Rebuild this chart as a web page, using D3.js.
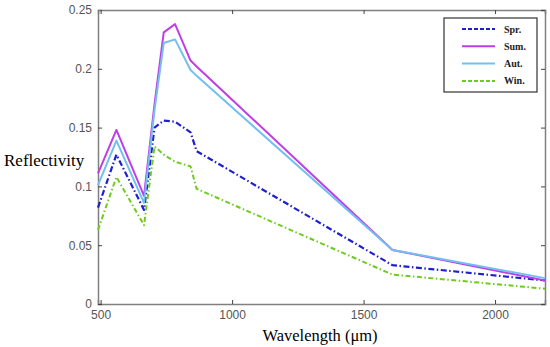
<!DOCTYPE html>
<html>
<head>
<meta charset="utf-8">
<script src="https://cdn.jsdelivr.net/npm/d3@7"></script>
<style>
  body { margin: 0; background: #fff; }
  .tick text { font-family: "Liberation Sans", Arial, sans-serif; font-size: 12px; fill: #555; }
</style>
</head>
<body>
<div id="chart"></div>
<script>
// Sentinel-2 band centres
const wavelengths = [490, 560, 665, 705, 740, 783, 842, 865, 1610, 2190];

const spring = [0.082, 0.127, 0.080, 0.150, 0.156, 0.155, 0.146, 0.130, 0.033, 0.020];
const summer = [0.111, 0.148, 0.092, 0.170, 0.231, 0.238, 0.207, 0.202, 0.046, 0.020];
const autumn = [0.101, 0.139, 0.086, 0.165, 0.222, 0.225, 0.199, 0.194, 0.046, 0.022];
const winter = [0.063, 0.108, 0.067, 0.134, 0.127, 0.121, 0.117, 0.098, 0.025, 0.013];

const seriesNames = ['Spr.', 'Sum.', 'Aut.', 'Win.'];
const xTicks = [500, 1000, 1500, 2000];
const yTicks = [0, 0.05, 0.1, 0.15, 0.2, 0.25];

const width = 550;
const height = 347;
const margin = { top: 10, right: 5, bottom: 43, left: 98 };

const series = [
  { name: seriesNames[0], values: spring, color: '#1f1fcf', dash: '6,2.5,1.5,2.5', width: 2.2 },
  { name: seriesNames[1], values: summer, color: '#c03ee6', dash: null, width: 2 },
  { name: seriesNames[2], values: autumn, color: '#72bff0', dash: null, width: 2 },
  { name: seriesNames[3], values: winter, color: '#6fcc1e', dash: '5,2.5,1.5,2.5', width: 2 }
];

const svg = d3.select('#chart')
  .append('svg')
  .attr('width', width)
  .attr('height', height);

const x = d3.scaleLinear()
  .domain([490, 2190])
  .range([margin.left, width - margin.right]);

const y = d3.scaleLinear()
  .domain([0, 0.25])
  .range([height - margin.bottom, margin.top]);

// axes (ticks inward, mirrored on top/right)
const axisColor = '#808080';

const axisBottomG = svg.append('g')
  .attr('transform', `translate(0,${height - margin.bottom})`)
  .call(d3.axisBottom(x).tickValues(xTicks).tickSize(-4).tickPadding(6).tickFormat(d3.format('d')));

const axisLeftG = svg.append('g')
  .attr('transform', `translate(${margin.left},0)`)
  .call(d3.axisLeft(y).tickValues(yTicks).tickSize(-4).tickPadding(6).tickFormat(d => d === 0 ? '0' : String(d)));

const axisTopG = svg.append('g')
  .attr('transform', `translate(0,${margin.top})`)
  .call(d3.axisTop(x).tickValues(xTicks).tickSize(-4).tickFormat(''));

const axisRightG = svg.append('g')
  .attr('transform', `translate(${width - margin.right},0)`)
  .call(d3.axisRight(y).tickValues(yTicks).tickSize(-4).tickFormat(''));

[axisBottomG, axisLeftG, axisTopG, axisRightG].forEach(g => {
  g.selectAll('.domain').attr('stroke', axisColor).attr('stroke-width', 1.5);
  g.selectAll('.tick line').attr('stroke', '#444');
});

// lines
const line = d3.line()
  .x((d, i) => x(wavelengths[i]))
  .y(d => y(d));

svg.append('g')
  .selectAll('path')
  .data(series)
  .enter()
  .append('path')
  .attr('d', d => line(d.values))
  .attr('fill', 'none')
  .attr('stroke', d => d.color)
  .attr('stroke-width', d => d.width)
  .attr('stroke-dasharray', d => d.dash)
  .attr('stroke-linejoin', 'round');

// legend
const legend = svg.append('g').attr('transform', 'translate(444,18)');

legend.append('rect')
  .attr('width', 93)
  .attr('height', 74)
  .attr('fill', '#fff')
  .attr('stroke', '#333')
  .attr('stroke-width', 1.2);

const item = legend.selectAll('.item')
  .data(series)
  .enter()
  .append('g')
  .attr('class', 'item')
  .attr('transform', (d, i) => `translate(0,${11 + i * 17.3})`);

item.append('line')
  .attr('x1', 18)
  .attr('x2', 51)
  .attr('stroke', d => d.color)
  .attr('stroke-width', 2)
  .attr('stroke-dasharray', d => d.dash ? '4,2' : null);

item.append('text')
  .attr('x', 60)
  .attr('dy', '0.35em')
  .style('font-family', '"Liberation Serif", "Times New Roman", serif')
  .style('font-size', '10px')
  .style('font-weight', 'bold')
  .attr('fill', '#222')
  .text(d => d.name);

// axis titles
svg.append('text')
  .attr('x', 4)
  .attr('y', 166)
  .style('font-family', '"Liberation Serif", "Times New Roman", serif')
  .style('font-size', '17px')
  .attr('fill', '#000')
  .text('Reflectivity');

svg.append('text')
  .attr('x', 320)
  .attr('y', 341)
  .attr('text-anchor', 'middle')
  .style('font-family', '"Liberation Serif", "Times New Roman", serif')
  .style('font-size', '16.5px')
  .attr('fill', '#000')
  .text('Wavelength (μm)');
</script>
</body>
</html>
